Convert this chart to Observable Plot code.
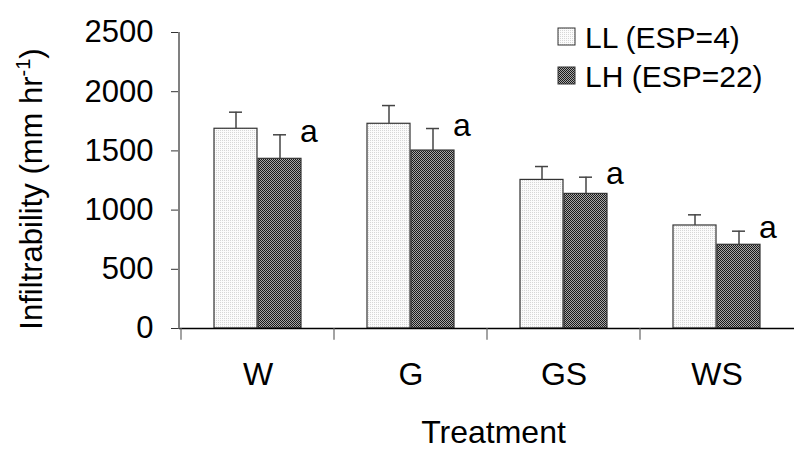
<!DOCTYPE html>
<html>
<head>
<meta charset="utf-8">
<script src="https://cdn.jsdelivr.net/npm/d3@7"></script>
<script src="https://cdn.jsdelivr.net/npm/@observablehq/plot@0.6"></script>
<style>
  html, body { margin: 0; padding: 0; background: #fff; }
  #chart { width: 794px; height: 450px; }
</style>
</head>
<body>
<div id="chart"></div>
<script>
const treatments = ["W", "G", "GS", "WS"];
const llValues = [1687, 1729, 1255, 870];
const llErrors = [140, 154, 113, 90];
const lhValues = [1433, 1503, 1137, 707];
const lhErrors = [203, 186, 141, 115];
const lhLabels = ["a", "a", "a", "a"];
const yTicks = [0, 500, 1000, 1500, 2000, 2500];
const seriesNames = ["LL (ESP=4)", "LH (ESP=22)"];
const seriesFills = ["url(#patLL)", "url(#patLH)"];

const rows = treatments.map((t, i) => ({
  t, ll: llValues[i], llErr: llErrors[i], lh: lhValues[i], lhErr: lhErrors[i], label: lhLabels[i]
}));

const font = "'Liberation Sans', Arial, sans-serif";

const chart = Plot.plot({
  width: 794,
  height: 450,
  marginLeft: 179,
  marginRight: 0,
  marginTop: 32,
  marginBottom: 122,
  style: { fontFamily: font, fontSize: "31px", color: "#000", background: "#fff", overflow: "visible" },
  x: { domain: treatments, padding: 0, axis: null },
  y: { domain: [0, 2500], axis: null },
  marks: [
    Plot.barY(rows, { x: "t", y: "ll", fill: seriesFills[0], stroke: "#333", strokeWidth: 1.2, insetLeft: 33, insetRight: 77 }),
    Plot.barY(rows, { x: "t", y: "lh", fill: seriesFills[1], stroke: "#333", strokeWidth: 1.2, insetLeft: 77, insetRight: 33 }),
    Plot.ruleX(rows, { x: "t", y1: "ll", y2: d => d.ll + d.llErr, dx: -22, stroke: "#444", strokeWidth: 1.5 }),
    Plot.ruleX(rows, { x: "t", y1: "lh", y2: d => d.lh + d.lhErr, dx: 22, stroke: "#444", strokeWidth: 1.5 }),
    Plot.tickY(rows, { x: "t", y: d => d.ll + d.llErr, insetLeft: 48, insetRight: 92, stroke: "#444", strokeWidth: 1.5 }),
    Plot.tickY(rows, { x: "t", y: d => d.lh + d.lhErr, insetLeft: 92, insetRight: 48, stroke: "#444", strokeWidth: 1.5 }),
    Plot.text(rows, { x: "t", y: d => d.lh + d.lhErr, text: "label", dx: 51, dy: -3, fontSize: 32, fill: "#000" }),
    Plot.axisY({ ticks: yTicks, tickSize: 8, tickPadding: 18, label: null, tickFormat: d => String(d), stroke: "#333", fontSize: 31 }),
    Plot.axisX({ tickSize: 0, tickPadding: 34, label: null, fontSize: 32 }),
    Plot.ruleY([0], { stroke: "#000", strokeWidth: 1.5 }),
    Plot.ruleX(treatments, { x: d => d, dx: -77, y1: 0, y2: -100, stroke: "#666", strokeWidth: 1.2 })
  ]
});

const svg = d3.select(chart);
const xs = chart.scale("x");
const ys = chart.scale("y");
const x0 = xs.range[0];
const x1 = xs.range[1];
const yTop = ys.apply(2500);
const yBot = ys.apply(0);

// patterns
const defs = svg.insert("defs", ":first-child");
const pLL = defs.append("pattern").attr("id", "patLL").attr("patternUnits", "userSpaceOnUse").attr("width", 2).attr("height", 2);
pLL.append("rect").attr("width", 2).attr("height", 2).attr("fill", "#fbfbfb");
pLL.append("rect").attr("width", 1).attr("height", 1).attr("fill", "#d6d6d6");
const pLH = defs.append("pattern").attr("id", "patLH").attr("patternUnits", "userSpaceOnUse").attr("width", 2).attr("height", 2);
pLH.append("rect").attr("width", 2).attr("height", 2).attr("fill", "#a8a8a8");
pLH.append("rect").attr("width", 1).attr("height", 1).attr("fill", "#1a1a1a");
pLH.append("rect").attr("x", 1).attr("y", 1).attr("width", 1).attr("height", 1).attr("fill", "#1a1a1a");

// y axis line
svg.append("line").attr("x1", x0).attr("x2", x0).attr("y1", yTop).attr("y2", yBot + 0.5)
  .attr("stroke", "#808080").attr("stroke-width", 2);

// axis titles
svg.append("text").attr("x", (x0 + x1) / 2 + 7).attr("y", 443)
  .attr("text-anchor", "middle").attr("font-size", 32).attr("fill", "#000").text("Treatment");

const yt = svg.append("text")
  .attr("transform", `translate(42,${(yTop + yBot) / 2 + 9}) rotate(-90)`)
  .attr("text-anchor", "middle").attr("font-size", 31).attr("fill", "#000");
yt.append("tspan").text("Infiltrability (mm hr");
yt.append("tspan").attr("font-size", 20).attr("dy", -12).text("-1");
yt.append("tspan").attr("dy", 12).text(")");

// legend
const lg = svg.append("g").attr("font-size", 30).attr("text-anchor", "start");
seriesNames.forEach((name, i) => {
  const yy = 37 + i * 39;
  lg.append("rect").attr("x", 558).attr("y", yy - 9).attr("width", 17).attr("height", 17)
    .attr("fill", seriesFills[i]).attr("stroke", "#333").attr("stroke-width", 1);
  lg.append("text").attr("x", 585).attr("y", yy).attr("dy", "0.36em").attr("fill", "#000").text(name);
});

document.getElementById("chart").appendChild(chart);
</script>
</body>
</html>
